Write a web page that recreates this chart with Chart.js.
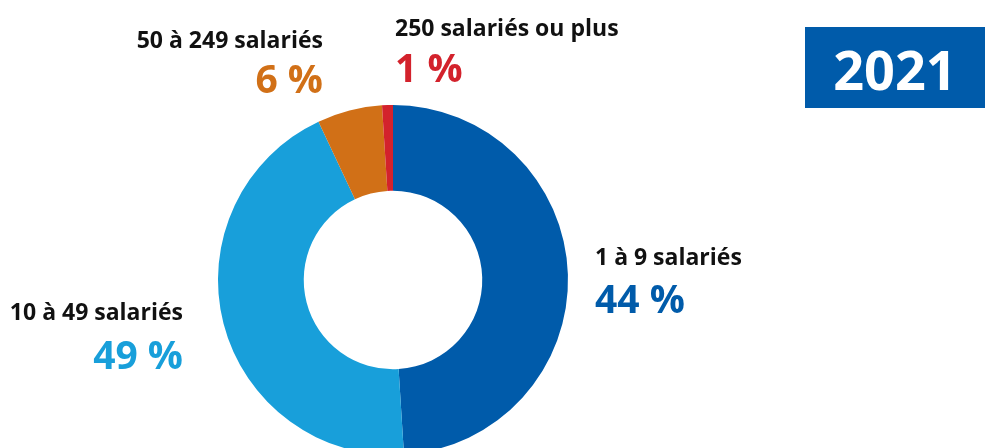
<!DOCTYPE html>
<html lang="fr">
<head>
<meta charset="utf-8">
<script src="https://cdn.jsdelivr.net/npm/chart.js@4/dist/chart.umd.min.js"></script>
<style>
  html, body { margin: 0; padding: 0; background: #fff; overflow: hidden; }
  body { width: 985px; height: 448px; position: relative; font-family: "Open Sans", sans-serif; }
  #wrap { position: absolute; left: 0; top: 0; width: 985px; height: 470px; }
  .lbl { position: absolute; font-weight: 700; line-height: 1; white-space: nowrap; }
  .name { font-size: 23px; color: #111; }
  .pct { font-size: 39px; }
  #year { position: absolute; left: 805px; top: 27px; width: 180px; height: 81px; background: #005baa; }
  #year span { position: absolute; left: 0; right: 0; top: 15px; text-align: center; color: #fff; font-size: 54px; font-weight: 700; line-height: 1; }
</style>
</head>
<body>
<div id="wrap"><canvas id="chart" width="985" height="470"></canvas></div>
<div id="labels"></div>
<div id="year"><span>2021</span></div>
<script>
// Catégories (ordre des parts dans le sens horaire depuis le haut)
const categories = ['1 à 9 salariés', '10 à 49 salariés', '50 à 249 salariés', '250 salariés ou plus'];
// pourcentages imprimés sur l'image
const printedPct = [44, 49, 6, 1];
// taille des arcs mesurée sur l'image (les deux premiers semblent inversés dans l'original)
const arcShares = [49, 44, 6, 1];
const colors = ['#005baa', '#189fda', '#d17017', '#d3222c'];

// placement des étiquettes
const labelPos = [
    { x: 595, nameTop: 245, pctTop: 278, align: 'left' },
    { x: 183, nameTop: 300, pctTop: 334, align: 'right' },
    { x: 323, nameTop: 28, pctTop: 58, align: 'right' },
    { x: 395, nameTop: 16, pctTop: 47, align: 'left' }
];

const labelsBox = document.getElementById('labels');
categories.forEach((cat, i) => {
    const p = labelPos[i];
    const side = p.align === 'left' ? `left:${p.x}px;` : `right:${985 - p.x}px;text-align:right;`;
    const n = document.createElement('div');
    n.className = 'lbl name';
    n.style.cssText = side + `top:${p.nameTop}px;`;
    n.textContent = cat;
    labelsBox.appendChild(n);
    const v = document.createElement('div');
    v.className = 'lbl pct';
    v.style.cssText = side + `top:${p.pctTop}px;color:${colors[i]};`;
    v.textContent = printedPct[i] + ' %';
    labelsBox.appendChild(v);
});

const ctx = document.getElementById('chart').getContext('2d');
new Chart(ctx, {
    type: 'doughnut',
    data: {
        labels: categories,
        datasets: [{
            data: arcShares,
            backgroundColor: colors,
            borderWidth: 0
        }]
    },
    options: {
        responsive: false,
        animation: false,
        cutout: '51%',
        layout: { padding: { top: 105, bottom: 15, left: 218, right: 417 } },
        plugins: {
            legend: { display: false },
            tooltip: { enabled: false }
        }
    }
});
</script>
</body>
</html>
